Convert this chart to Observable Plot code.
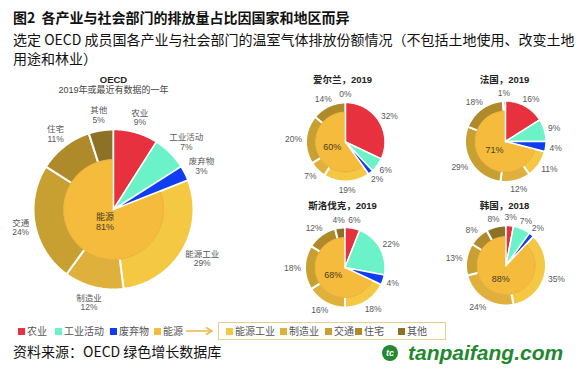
<!DOCTYPE html>
<html>
<head>
<meta charset="utf-8">
<script src="https://cdn.jsdelivr.net/npm/d3@7"></script>
<script src="https://cdn.jsdelivr.net/npm/@observablehq/plot@0.6"></script>
<style>
  body { margin:0; width:580px; height:370px; background:#fff; position:relative; overflow:hidden;
         font-family:"Noto Sans CJK SC","Noto Sans",sans-serif; color:#111; }
  #title { position:absolute; left:13px; top:8px; font-size:14px; line-height:19px; font-weight:bold; white-space:nowrap; }
  #sub { position:absolute; left:13px; top:30px; font-size:14px; line-height:19px; white-space:nowrap; }
  #chart { position:absolute; left:0; top:68px; }
  #legend { position:absolute; left:0; top:323px; width:580px; height:16px; font-size:10px; color:#555; }
  #legend .item { position:absolute; top:0; height:16px; line-height:16px; white-space:nowrap; }
  #legend .sw { display:inline-block; width:7px; height:7px; margin-right:2px; vertical-align:0px; }
  #legend .box { position:absolute; left:218px; top:-1px; width:226px; height:16px; border:1px solid #E9CF8A; }
  #legend .arrow { position:absolute; left:186px; top:3px; }
  #source { position:absolute; left:13px; top:342px; font-size:14px; line-height:19px; white-space:nowrap; }
  #mark { position:absolute; left:382px; top:338px; height:24px; white-space:nowrap; }
  #mark .logo { display:inline-block; width:16px; height:16px; border-radius:50%; background:#23882F; color:#fff;
                font:bold italic 9px "Liberation Sans",sans-serif; text-align:center; line-height:16px; vertical-align:middle; margin-right:10px; }
  #mark .txt { font:bold italic 21px "Liberation Sans",sans-serif; color:#23882F; vertical-align:middle; }
</style>
</head>
<body>
<div id="title">图2&nbsp; 各产业与社会部门的排放量占比因国家和地区而异</div>
<div id="sub">选定 OECD 成员国各产业与社会部门的温室气体排放份额情况（不包括土地使用、改变土地<br>用途和林业）</div>
<div id="chart"></div>
<div id="legend"></div>
<div id="source">资料来源：OECD 绿色增长数据库</div>
<div id="mark"><span class="logo">tc</span><span class="txt">tanpaifang.com</span></div>
<script>
// ---------- data ----------
const categories = ["农业", "工业活动", "废弃物", "能源工业", "制造业", "交通", "住宅", "其他"];
const energySectors = ["能源工业", "制造业", "交通", "住宅", "其他"];
const energyLabel = "能源";
const catColors = ["#E8313F", "#6CF2C9", "#0F3EF2", "#F5C843", "#DFB03B", "#C89F31", "#AE8A2A", "#8D7127"];
const energyColor = "#F4BB3D";

const pieNames = ["OECD", "爱尔兰，2019", "法国，2019", "斯洛伐克，2019", "韩国，2018"];
const oecdSubtitle = "2019年或最近有数据的一年";
const oecdValues     = [9, 7, 3, 29, 12, 24, 11, 5];
const irelandValues  = [32, 6, 2, 19, 7, 20, 14, 0];
const franceValues   = [16, 9, 4, 11, 12, 29, 18, 1];
const slovakiaValues = [6, 22, 4, 18, 16, 18, 12, 4];
const koreaValues    = [3, 7, 2, 35, 24, 13, 8, 8];
const energyTotals   = [81, 60, 71, 68, 88];

const legendLeft = ["农业", "工业活动", "废弃物", "能源"];

// ---------- layout (pixels inside the svg) ----------
const W = 580, H = 250;
const layout = [
  {cx: 113,   cy: 141, r: 80, rin: 49, big: true,  tx: 113, ty: 11},
  {cx: 345,   cy: 73.5, r: 39.5, rin: 29, big: false, tx: 342, ty: 11},
  {cx: 505,   cy: 73,  r: 40.5, rin: 29.5, big: false, tx: 504, ty: 11},
  {cx: 344.5, cy: 199, r: 40, rin: 29, big: false, tx: 342, ty: 137},
  {cx: 505.5, cy: 197, r: 40, rin: 28, big: false, tx: 504, ty: 137}
];
const allValues = [oecdValues, irelandValues, franceValues, slovakiaValues, koreaValues];

const ringPts = [], wedgePts = [], innerPts = [], labels = [], centerLabels = [], titles = [];
const pt = (p, rad, a) => ({x: p.cx + rad * Math.sin(a), y: p.cy - rad * Math.cos(a)});
function arcPts(p, r0, r1, a0, a1, id, cat, out) {
  const n = Math.max(2, Math.ceil((a1 - a0) / 0.015));
  for (let k = 0; k <= n; k++) out.push({...pt(p, r1, a0 + (a1 - a0) * k / n), id, cat});
  if (r0 <= 0) out.push({x: p.cx, y: p.cy, id, cat});
  else for (let k = n; k >= 0; k--) out.push({...pt(p, r0, a0 + (a1 - a0) * k / n), id, cat});
}

allValues.forEach((vals, pi) => {
  const p = layout[pi];
  const arcs = d3.pie().sort(null).value(d => d.v)(categories.map((c, i) => ({cat: c, v: vals[i]})));
  let eStart = Infinity, eEnd = 0;
  arcs.forEach((a, i) => {
    const cat = a.data.cat, id = pi + "-" + i;
    const isE = energySectors.includes(cat);
    if (a.endAngle > a.startAngle) {
      if (isE) arcPts(p, p.rin, p.r, a.startAngle, a.endAngle, id, cat, ringPts);
      else arcPts(p, 0, p.r, a.startAngle, a.endAngle, id, cat, wedgePts);
    }
    if (isE) { eStart = Math.min(eStart, a.startAngle); eEnd = Math.max(eEnd, a.endAngle); }
    // labels
    const m = (a.startAngle + a.endAngle) / 2, s = Math.sin(m), c = Math.cos(m);
    const pct = a.data.v + "%";
    const fs = 8.5;
    const pw = (String(a.data.v).length * 0.556 + 0.889) * fs;
    const w = p.big ? Math.max(cat.length * fs, pw) : pw;
    const h = p.big ? 20 : 9;
    const base = p.r + (p.big ? 6 : 4);
    labels.push({
      x: p.cx + base * s + s * w / 2,
      y: p.cy - base * c - c * h / 2,
      text: p.big ? cat + "\n" + pct : pct
    });
  });
  arcPts(p, 0, p.rin + 1, eStart, eEnd, "e" + pi, energyLabel, innerPts);
  const em = (eStart + eEnd) / 2;
  const cr = p.big ? 15 : 14;
  centerLabels.push({
    ...pt(p, cr, em),
    text: p.big ? energyLabel + "\n" + energyTotals[pi] + "%" : energyTotals[pi] + "%"
  });
  titles.push({x: p.tx, y: p.ty, text: pieNames[pi]});
});

const chart = Plot.plot({
  width: W, height: H, margin: 0,
  x: {domain: [0, W], range: [0, W], axis: null},
  y: {domain: [0, H], range: [0, H], axis: null},
  color: {domain: [...categories, energyLabel], range: [...catColors, energyColor]},
  style: {background: "transparent", overflow: "visible"},
  marks: [
    Plot.line(ringPts, {x: "x", y: "y", z: "id", fill: "cat", stroke: "white", strokeWidth: 2, curve: "linear-closed"}),
    Plot.line(innerPts, {x: "x", y: "y", z: "id", fill: "cat", stroke: "#E2A631", strokeWidth: 0.8, curve: "linear-closed"}),
    Plot.line(wedgePts, {x: "x", y: "y", z: "id", fill: "cat", stroke: "white", strokeWidth: 1.5, curve: "linear-closed"}),
    Plot.text(labels, {x: "x", y: "y", text: "text", fontSize: 8.5, fill: "#595959", lineHeight: 1.15,
      fontFamily: "'Liberation Sans','Noto Sans CJK SC',sans-serif"}),
    Plot.text(centerLabels, {x: "x", y: "y", text: "text", fontSize: 9, fill: "#4a3c1a", lineHeight: 1.15,
      fontFamily: "'Liberation Sans','Noto Sans CJK SC',sans-serif"}),
    Plot.text(titles, {x: "x", y: "y", text: "text", fontSize: 9.5, fontWeight: "bold", fill: "#222",
      fontFamily: "'Liberation Sans','Noto Sans CJK SC',sans-serif"}),
    Plot.text([oecdSubtitle], {x: () => layout[0].tx, y: () => 22, text: d => d, fontSize: 9, fill: "#444",
      fontFamily: "'Liberation Sans','Noto Sans CJK SC',sans-serif"})
  ]
});
document.getElementById("chart").appendChild(chart);

// ---------- legend ----------
const colorOf = c => c === energyLabel ? energyColor : catColors[categories.indexOf(c)];
const leftX = [18, 55, 110, 154];
const rightX = [226, 280, 325, 355, 398];
const lg = document.getElementById("legend");
lg.innerHTML = '<div class="box"></div>' +
  '<svg class="arrow" width="28" height="10"><line x1="0" y1="5" x2="24" y2="5" stroke="#E8B94B" stroke-width="1.5"/><path d="M20,1.5 L26,5 L20,8.5" fill="none" stroke="#E8B94B" stroke-width="1.5"/></svg>';
legendLeft.forEach((c, i) => {
  lg.insertAdjacentHTML("beforeend", `<span class="item" style="left:${leftX[i]}px"><span class="sw" style="background:${colorOf(c)}"></span>${c}</span>`);
});
energySectors.forEach((c, i) => {
  lg.insertAdjacentHTML("beforeend", `<span class="item" style="left:${rightX[i]}px"><span class="sw" style="background:${colorOf(c)}"></span>${c}</span>`);
});
</script>
</body>
</html>
